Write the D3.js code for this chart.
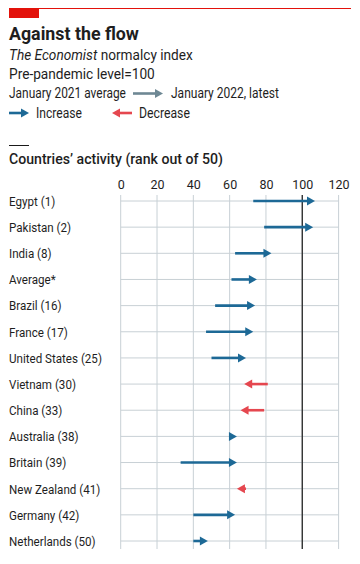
<!DOCTYPE html>
<html><head><meta charset="utf-8">
<script src="https://cdn.jsdelivr.net/npm/d3@7"></script>
<style>
html,body{margin:0;padding:0;background:#fff;}
svg{display:block;}
text{font-family:Roboto,"Noto Sans",sans-serif;fill:#1e1e1e;}
</style></head>
<body>
<script>
const countries = ["Egypt (1)","Pakistan (2)","India (8)","Average*","Brazil (16)","France (17)","United States (25)","Vietnam (30)","China (33)","Australia (38)","Britain (39)","New Zealand (41)","Germany (42)","Netherlands (50)"];
const jan2021 = [73, 79, 63, 61, 52, 47, 50, 81, 79, 60, 33, 69, 40, 40];
const jan2022 = [107, 106, 83, 75, 74, 73, 69, 68, 66, 64, 64, 64, 63, 48];
const ticks = [0, 20, 40, 60, 80, 100, 120];

const W = 360, H = 564;
const blue = "#1d6996", red = "#e5474f", grey = "#6e8894", grid = "#c8d0d5";

const svg = d3.select("body").append("svg").attr("width", W).attr("height", H);

// text helper: condensed to a target width
function txt(g, x, y, size, weight, str, w, style) {
  const t = g.append("text").attr("font-size", size).attr("font-weight", weight || 400);
  if (typeof str === "string") t.text(str); else str(t);
  if (style) t.attr("font-style", style);
  const l = t.node().getComputedTextLength();
  const sx = w ? w / l : 1;
  t.attr("transform", `translate(${x},${y}) scale(${sx},1)`);
  return t;
}

// header
svg.append("line").attr("x1", 9).attr("x2", 351).attr("y1", 8.5).attr("y2", 8.5).attr("stroke", "#e3120b").attr("stroke-width", 1);
svg.append("rect").attr("x", 9).attr("y", 8.5).attr("width", 30).attr("height", 9.5).attr("fill", "#e3120b");
txt(svg, 9, 39.5, 17.5, 700, "Against the flow", 130);
txt(svg, 9, 60, 14, 400, t => {
  t.append("tspan").attr("font-style", "italic").text("The Economist");
  t.append("tspan").text(" normalcy index");
}, 184);
txt(svg, 9, 78.5, 14, 400, "Pre-pandemic level=100", 146);
txt(svg, 9, 97.5, 14, 400, "January 2021 average", 117);
txt(svg, 171, 97.5, 14, 400, "January 2022, latest", 108);
txt(svg, 36, 117.5, 14, 400, "Increase", 46);
txt(svg, 139, 117.5, 14, 400, "Decrease", 51);

function arrow(g, x1, x2, y, color) {
  const dir = x2 >= x1 ? 1 : -1;
  const hl = 8, hw = 4.5;
  const base = x2 - dir * hl;
  if (Math.abs(x2 - x1) > hl) {
    g.append("line").attr("x1", x1).attr("x2", base + dir * 1).attr("y1", y).attr("y2", y)
      .attr("stroke", color).attr("stroke-width", 2.6);
  }
  g.append("path").attr("d", `M${x2},${y} L${base},${y - hw} L${base},${y + hw} Z`).attr("fill", color);
}
const lg = svg.append("g");
arrow(lg, 133, 163, 93.5, grey);
arrow(lg, 9, 29, 113, blue);
arrow(lg, 132, 112, 113, red);

// section header
svg.append("line").attr("x1", 9).attr("x2", 29).attr("y1", 145.5).attr("y2", 145.5).attr("stroke", "#1a1a1a").attr("stroke-width", 1);
txt(svg, 9, 163.5, 15.5, 500, "Countries\u2019 activity (rank out of 50)", 214);

// scales
const x = d3.scaleLinear().domain([0, 120]).range([120.7, 338.6]);
const y = d3.scalePoint().domain(countries).range([201, 541]);

const gGrid = svg.append("g");
ticks.forEach(t => {
  gGrid.append("line").attr("x1", x(t)).attr("x2", x(t)).attr("y1", 195).attr("y2", 549)
    .attr("stroke", grid).attr("stroke-width", 1);
});
countries.forEach(c => {
  gGrid.append("line").attr("x1", x(0)).attr("x2", x(120)).attr("y1", y(c)).attr("y2", y(c))
    .attr("stroke", grid).attr("stroke-width", 1);
});
gGrid.append("line").attr("x1", x(100)).attr("x2", x(100)).attr("y1", 195).attr("y2", 549)
  .attr("stroke", "#333").attr("stroke-width", 1.4);

// axis labels
const axis = d3.axisTop(x).tickValues(ticks).tickSize(0).tickPadding(0);
const ga = svg.append("g").attr("transform", "translate(0,188.5)").call(axis);
ga.select(".domain").remove();
ga.selectAll("text").attr("font-size", 12.5).attr("fill", "#1e1e1e")
  .style("font-family", "Roboto, sans-serif").attr("dy", 0);

// row labels (condensed uniformly)
const gl = svg.append("g");
const probe = gl.append("text").attr("font-size", 13.5).text("United States (25)");
const rowSx = 93 / probe.node().getComputedTextLength();
probe.remove();
gl.selectAll("text").data(countries).join("text")
  .attr("font-size", 13.5).attr("dy", "0.36em")
  .attr("transform", d => `translate(9,${y(d)}) scale(${rowSx},1)`)
  .text(d => d);

// arrows
const ga2 = svg.append("g");
countries.forEach((c, i) => {
  const a = jan2021[i], b = jan2022[i];
  arrow(ga2, x(a), x(b), y(c), b >= a ? blue : red);
});
</script>
</body></html>
